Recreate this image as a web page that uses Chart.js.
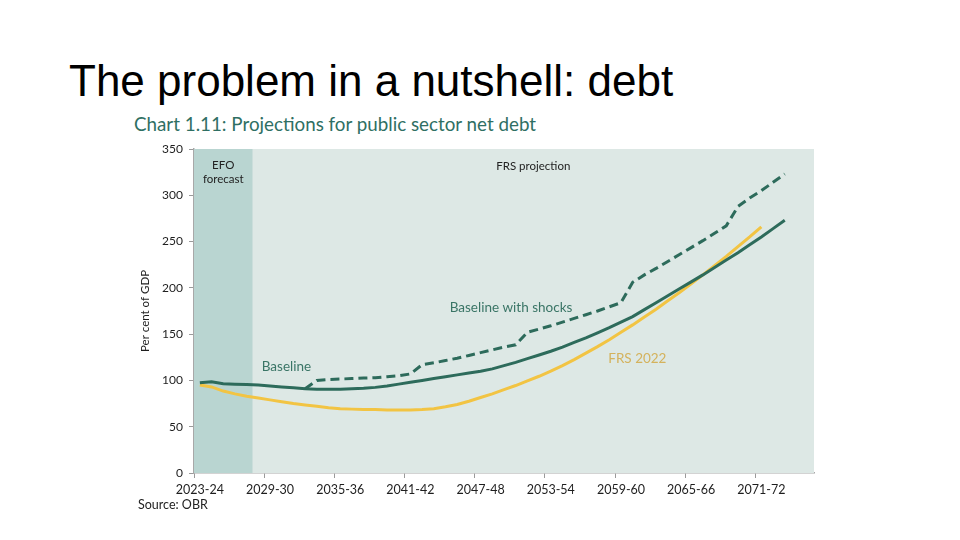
<!DOCTYPE html>
<html>
<head>
<meta charset="utf-8">
<script src="https://cdn.jsdelivr.net/npm/chart.js@4.4.0/dist/chart.umd.min.js"></script>
<style>
  html, body { margin: 0; padding: 0; background: #fff; }
  #wrap { position: relative; width: 960px; height: 540px; overflow: hidden; }
  #wrap canvas { position: absolute; left: 0; top: 0; }
  .slide-title {
    position: absolute; left: 69px; top: 59px; margin: 0;
    font: 44px/1 "Liberation Sans", Arial, sans-serif; font-weight: normal; color: #000;
  }
  .chart-title {
    position: absolute; left: 134px; top: 114px; margin: 0;
    font: 18.8px/1.1 Lato, "Open Sans", sans-serif; color: #2f6f63;
  }
  .source {
    position: absolute; left: 138px; top: 497px;
    font: 12.5px/1.2 Lato, sans-serif; color: #222;
  }
</style>
</head>
<body>
<div id="wrap">
  <h1 class="slide-title">The problem in a nutshell: debt</h1>
  <div class="chart-title">Chart 1.11: Projections for public sector net debt</div>
  <canvas id="debtChart" width="960" height="540"></canvas>
  <div class="source">Source: OBR</div>
</div>

<script>
// Fiscal years on the x axis, 2023-24 to 2075-76
const firstYear = 2023;
const yearCount = 53;
const years = [];
for (let i = 0; i < yearCount; i++) {
    const y = firstYear + i;
    years.push(y + '-' + String((y + 1) % 100).padStart(2, '0'));
}

// Per cent of GDP
const baseline = [97.5, 98.5, 96.5, 96, 95.5, 95, 94, 93, 92, 91,
    90.5, 90.5, 90.5, 91, 91.5, 92.5, 94, 96, 98, 100,
    102, 104, 106, 108, 110, 112.5, 116, 119.5, 123.5, 127.5,
    131.5, 136, 141, 146, 151.5, 157, 163, 169, 176.5, 184,
    191.5, 199, 206.5, 214, 222, 230, 238, 246.5, 255, 264, 273];

const withShocks = [null, null, null, null, null, null, null, null, null, 91,
    100, 101, 101.5, 102, 102.5, 103, 104, 105, 107, 117,
    119, 121.5, 124, 127, 130, 133, 136, 138.5, 152, 155.5,
    159, 163, 167, 171, 175, 179.5, 184, 206, 214, 221,
    228.5, 236, 243.5, 251, 259, 267, 288, 297, 305, 314, 323];

const frs2022 = [95, 93, 88.5, 85.5, 83, 81, 79, 77, 75, 73.5,
    72, 70.5, 69.5, 69, 68.5, 68.5, 68, 68, 68, 68.5,
    69.5, 71.5, 74, 77.5, 81.5, 85.5, 90, 94.5, 99.5, 104.5,
    110, 116, 122.5, 129.5, 136.5, 144, 152, 160, 168.5, 177,
    186, 195, 204.5, 214, 224, 234, 244.5, 255, 266];

const yTicks = [0, 50, 100, 150, 200, 250, 300, 350];
const efoYears = 5;   // EFO forecast covers the first five years
const tickEvery = 6;

const green = '#2d6b5b';
const yellow = '#f2c443';

// shaded backgrounds and in-chart labels
const backdrop = {
    id: 'backdrop',
    beforeDatasetsDraw(chart) {
        const { ctx, chartArea: a, scales: { x } } = chart;
        const half = (x.getPixelForValue(1) - x.getPixelForValue(0)) / 2;
        const efoEdge = x.getPixelForValue(efoYears) - half;
        ctx.save();
        ctx.fillStyle = '#dde8e5';
        ctx.fillRect(a.left, a.top, a.right - a.left, a.bottom - a.top);
        ctx.fillStyle = '#b9d5d1';
        ctx.fillRect(a.left, a.top, efoEdge - a.left, a.bottom - a.top);
        ctx.restore();
    },
    afterDatasetsDraw(chart) {
        const { ctx, scales: { x, y } } = chart;
        const notes = [
            { text: 'EFO', at: [2.0, 332.5], color: '#222', size: 11.5 },
            { text: 'forecast', at: [2.0, 317.5], color: '#222', size: 11.5 },
            { text: 'FRS projection', at: [28.5, 331], color: '#222', size: 11.5 },
            { text: 'Baseline', at: [7.4, 114.5], color: '#3a7566', size: 13.5 },
            { text: 'Baseline with shocks', at: [26.6, 179], color: '#3a7566', size: 13.5 },
            { text: 'FRS 2022', at: [37.4, 123.5], color: '#d4b25c', size: 13.5 }
        ];
        ctx.save();
        ctx.textAlign = 'center';
        ctx.textBaseline = 'middle';
        notes.forEach(n => {
            ctx.font = n.size + 'px Lato, sans-serif';
            ctx.fillStyle = n.color;
            const px = x.getPixelForValue(n.at[0]);
            ctx.fillText(n.text, px, y.getPixelForValue(n.at[1]));
        });
        ctx.restore();
    }
};

const ctx = document.getElementById('debtChart').getContext('2d');
new Chart(ctx, {
    type: 'line',
    data: {
        labels: years,
        datasets: [{
            label: 'Baseline with shocks',
            data: withShocks,
            borderColor: green,
            borderWidth: 3,
            borderDash: [9, 5],
            pointRadius: 0,
            tension: 0,
            spanGaps: false
        }, {
            label: 'Baseline',
            data: baseline,
            borderColor: green,
            borderWidth: 3,
            pointRadius: 0,
            tension: 0
        }, {
            label: 'FRS 2022',
            data: frs2022,
            borderColor: yellow,
            borderWidth: 3,
            pointRadius: 0,
            tension: 0
        }]
    },
    options: {
        responsive: false,
        animation: false,
        layout: { padding: { left: 134, top: 149, right: 146, bottom: 27 } },
        plugins: {
            legend: { display: false },
            tooltip: { enabled: false }
        },
        scales: {
            x: {
                type: 'category',
                offset: true,
                afterFit(scale) { scale.height = 40; },
                grid: {
                    offset: true,
                    drawOnChartArea: false,
                    tickLength: 5,
                    tickColor: c => (c.index % tickEvery === 0 ? '#9a9a9a' : 'transparent')
                },
                border: { color: '#a8a8a8', width: 1.5 },
                ticks: {
                    autoSkip: false,
                    maxRotation: 0,
                    minRotation: 0,
                    padding: 4,
                    color: '#1e1e1e',
                    font: { family: 'Lato', size: 12.5 },
                    callback: (v, i) => (i % tickEvery === 0 ? years[i] : '')
                }
            },
            y: {
                min: 0,
                max: 350,
                afterFit(scale) { scale.width = 60; },
                afterBuildTicks(scale) { scale.ticks = yTicks.map(v => ({ value: v })); },
                grid: { drawOnChartArea: false, tickLength: 5, tickColor: '#9a9a9a' },
                border: { color: '#a8a8a8', width: 1.5 },
                ticks: {
                    padding: 6,
                    color: '#1e1e1e',
                    font: { family: 'Lato', size: 12 }
                },
                title: {
                    display: true,
                    text: 'Per cent of GDP',
                    color: '#1e1e1e',
                    font: { family: 'Lato', size: 11.5 },
                    padding: { top: 4, bottom: 0 }
                }
            }
        }
    },
    plugins: [backdrop]
});
</script>
</body>
</html>
